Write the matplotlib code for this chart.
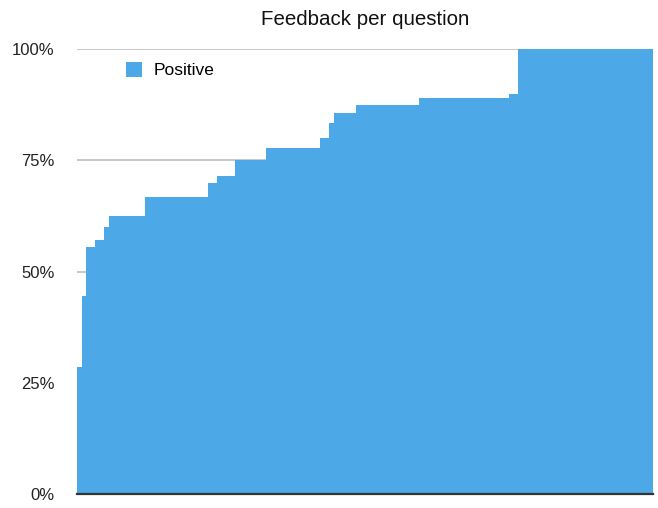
import numpy as np
import matplotlib
matplotlib.use('Agg')
import matplotlib.pyplot as plt

plt.rcParams['font.family'] = ['Liberation Sans', 'DejaVu Sans']

# share of positive answers per question, grouped by level (sorted)
levels = [28.6, 44.4, 55.6, 57.1, 60.0, 62.5, 66.7, 70.0, 71.4, 75.0,
          77.8, 80.0, 83.3, 85.7, 87.5, 88.9, 90.0, 100.0]
# number of questions at each level
counts = [1, 1, 2, 2, 1, 8, 14, 2, 4, 7, 12, 2, 1, 5, 14, 20, 2, 30]

yticks = [0, 25, 50, 75, 100]
ytick_labels = ['0%', '25%', '50%', '75%', '100%']

blue = '#4ca8e6'

values = np.repeat(levels, counts)
edges = np.arange(len(values) + 1)

fig = plt.figure(figsize=(6.58, 5.08), dpi=100)
ax = fig.add_axes([77 / 658, 1 - 494 / 508, 576 / 658, 445 / 508])

ax.stairs(values, edges, fill=True, color=blue, linewidth=0, label='Positive')

ax.set_xlim(0, len(values))
ax.set_ylim(0, 100)
ax.set_yticks(yticks)
ax.set_yticklabels(ytick_labels)
ax.set_xticks([])
ax.tick_params(axis='y', length=0, pad=16, labelsize=12, labelcolor='#222222')
ax.grid(axis='y', color='#c8c8c8', linewidth=1.4)
ax.set_axisbelow(True)

for s in ['left', 'top', 'right']:
    ax.spines[s].set_visible(False)
ax.spines['bottom'].set_color('#333333')
ax.spines['bottom'].set_linewidth(1.6)
ax.spines['bottom'].set_zorder(5)

fig.text(365 / 658, 1 - 25 / 508, 'Feedback per question', ha='center',
         va='baseline', fontsize=14.8, color='#111111')

ax.legend(loc='upper left', bbox_to_anchor=((126 - 77) / 576, (494 - 62) / 445),
          frameon=False, fontsize=12.5, handlelength=0.95, handleheight=0.95,
          handletextpad=0.65, borderpad=0, borderaxespad=0)

fig.savefig('out.png', dpi=100)
